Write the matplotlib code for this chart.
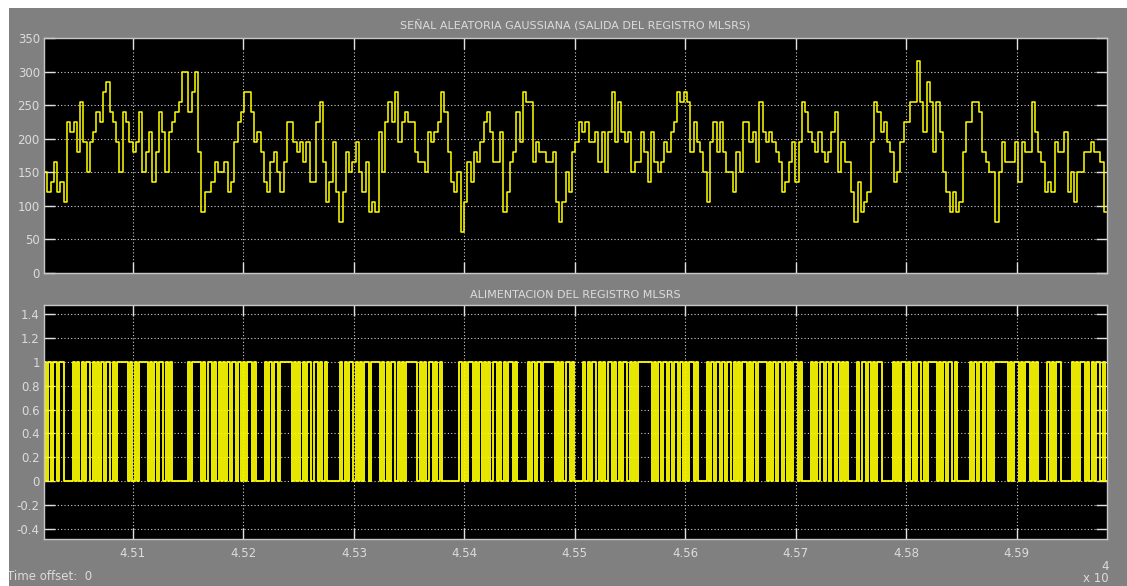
import numpy as np
import matplotlib.pyplot as plt
from matplotlib.patches import Rectangle

# Señal gaussiana a la salida del registro MLSRS (un valor cada ~3 s)
senal_1 = [150, 120, 135, 165, 120, 135, 105, 225, 210, 225, 180, 255, 195, 150, 195, 210,
           240, 225, 270, 285, 240, 225, 195, 150, 240, 225, 195, 180, 195, 240, 150, 180,
           210, 135, 180, 240, 210, 150, 210, 225, 240, 255, 300, 300, 240, 270, 300, 180,
           90, 120, 120, 135, 165, 150, 150, 165, 120, 135, 195, 225, 240, 270, 270, 240, 195]
senal_2 = [210, 180, 135, 120, 165, 180, 150, 120, 165, 225, 225, 195, 180, 195, 165, 195,
           135, 135, 225, 255, 165, 105, 135, 195, 120, 75, 120, 180, 150, 165, 195, 150,
           120, 165, 90, 105, 90, 210, 150, 225, 255, 225, 270, 195, 225, 240, 225, 225,
           180, 165, 165, 150, 210, 195, 210, 225, 270, 240, 180, 135, 120, 150, 60, 105, 165]
senal_3 = [135, 180, 165, 195, 225, 240, 210, 165, 165, 210, 90, 120, 165, 180, 240, 195,
           270, 255, 255, 165, 195, 180, 180, 165, 165, 180, 105, 75, 105, 150, 120, 180,
           195, 225, 210, 225, 195, 195, 210, 165, 210, 150, 210, 270, 195, 255, 210, 195,
           210, 150, 165, 165, 210, 180, 135, 210, 165, 150, 165, 195, 180, 210, 225, 270, 255]
senal_4 = [270, 255, 180, 225, 195, 180, 150, 105, 195, 225, 180, 225, 180, 150, 150, 120,
           180, 150, 225, 225, 195, 210, 165, 255, 210, 195, 210, 195, 180, 165, 120, 135,
           165, 195, 135, 195, 255, 240, 210, 195, 180, 210, 180, 165, 180, 210, 240, 150,
           195, 165, 165, 120, 75, 135, 90, 105, 120, 195, 255, 240, 210, 225, 195, 180, 135]
senal_5 = [150, 195, 225, 225, 255, 255, 315, 255, 210, 285, 255, 180, 255, 210, 150, 120,
           90, 120, 90, 105, 180, 225, 225, 255, 255, 240, 180, 165, 150, 150, 75, 150,
           195, 165, 165, 165, 195, 135, 195, 180, 180, 255, 210, 180, 165, 120, 135, 120,
           195, 180, 180, 210, 120, 150, 105, 150, 150, 180, 180, 195, 180, 180, 165, 90]

# Bits de alimentacion del registro (un bit cada 2 s)
bits = ("101011011" "0000" "101010110101010110101" "1111" "01"
        "010" "1111" "010101101010" "000000" "101" "111" "010110101"
        "01010110101011010" "000" "10101101" "1111" "01010101"
        "101101010" "00000" "101011010101101" "111" "01010110"
        "10101" "1111" "010101101010" "0000000" "101011010101"
        "010110101011010" "0000" "10101101" "1111" "010101101"
        "0000" "10101101010110101011010101" "11111" "01010"
        "11010110101011010" "000" "10101101011010101101"
        "0101" "111" "01010110101011010" "000" "1010110101101"
        "01010" "000" "101101010110" "0000" "1010110101011010"
        "1" "111" "0101011010" "00000" "1010110101011" "1111" "0101"
        "10101101010" "000" "1010110" "0000" "101011010101101"
        "0")

t_ini, t_fin = 45019.5, 45981.7
xticks = [45100, 45200, 45300, 45400, 45500, 45600, 45700, 45800, 45900]
xtick_labels = ["4.51", "4.52", "4.53", "4.54", "4.55", "4.56", "4.57", "4.58", "4.59"]
yticks_sup = [0, 50, 100, 150, 200, 250, 300, 350]
yticks_inf = [-0.4, -0.2, 0, 0.2, 0.4, 0.6, 0.8, 1, 1.2, 1.4]
ytick_labels_inf = ["-0.4", "-0.2", "0", "0.2", "0.4", "0.6", "0.8", "1", "1.2", "1.4"]

senal = np.array(senal_1 + senal_2 + senal_3 + senal_4 + senal_5, dtype=float)
t_senal = np.linspace(t_ini, t_fin, len(senal) + 1)
senal = np.append(senal, senal[-1])

b = np.array([int(c) for c in bits], dtype=float)
t_bits = np.linspace(t_ini, t_fin, len(b) + 1)
b = np.append(b, b[-1])

plt.rcParams["font.family"] = "DejaVu Sans"

GRIS = "#808080"
TEXTO = "#dcdcdc"
W, H = 1127, 586

fig = plt.figure(figsize=(W / 100, H / 100), dpi=100, facecolor=GRIS)
ax1 = fig.add_axes([44 / W, (H - 272.7) / H, 1063 / W, 234.7 / H])
ax2 = fig.add_axes([44 / W, (H - 539) / H, 1063 / W, 234.5 / H])


def estilo_scope(ax):
    ax.set_facecolor("black")
    for s in ax.spines.values():
        s.set_color("#c8c8c8")
        s.set_linewidth(1.0)
    ax.grid(True, color="#d0d0d0", linestyle=(0, (1, 2)), linewidth=0.8)
    ax.tick_params(direction="in", length=8, width=1, color="#e0e0e0",
                   labelcolor=TEXTO, labelsize=8.5, top=True, right=True, pad=3)
    ax.set_xlim(t_ini, t_fin)
    ax.set_xticks(xticks)


estilo_scope(ax1)
ax1.step(t_senal, senal, where="post", color="#ffff00", linewidth=1.1)
ax1.set_ylim(0, 350)
ax1.set_yticks(yticks_sup)
ax1.set_xticklabels([])
ax1.set_title("SEÑAL ALEATORIA GAUSSIANA (SALIDA DEL REGISTRO MLSRS)",
              color=TEXTO, fontsize=8, pad=6)

estilo_scope(ax2)
ax2.step(t_bits, b, where="post", color="#ffff00", linewidth=1.3)
ax2.set_ylim(-0.485, 1.48)
ax2.set_yticks(yticks_inf)
ax2.set_yticklabels(ytick_labels_inf)
ax2.set_xticklabels(xtick_labels)
ax2.tick_params(axis="x", pad=6)
ax2.set_title("ALIMENTACION DEL REGISTRO MLSRS", color=TEXTO, fontsize=8, pad=5)

# pie del scope
fig.text(7 / W, 1 - 577 / H, "Time offset:  0", color=TEXTO, fontsize=8.5,
         va="center", ha="left", zorder=1)
fig.text(1083 / W, 1 - 579 / H, "x 10", color=TEXTO, fontsize=8.5,
         va="center", ha="left", zorder=1)
fig.text(1101 / W, 1 - 567 / H, "4", color=TEXTO, fontsize=8.5,
         va="center", ha="left", zorder=1)

# bordes blancos de la captura
fig.patches.append(Rectangle((0, 1 - 8 / H), 1, 8 / H, transform=fig.transFigure,
                             facecolor="white", edgecolor="none", zorder=10))
fig.patches.append(Rectangle((0, 0), 9 / W, 1, transform=fig.transFigure,
                             facecolor="white", edgecolor="none", zorder=10))

fig.savefig("out.png", dpi=100, facecolor=GRIS)
